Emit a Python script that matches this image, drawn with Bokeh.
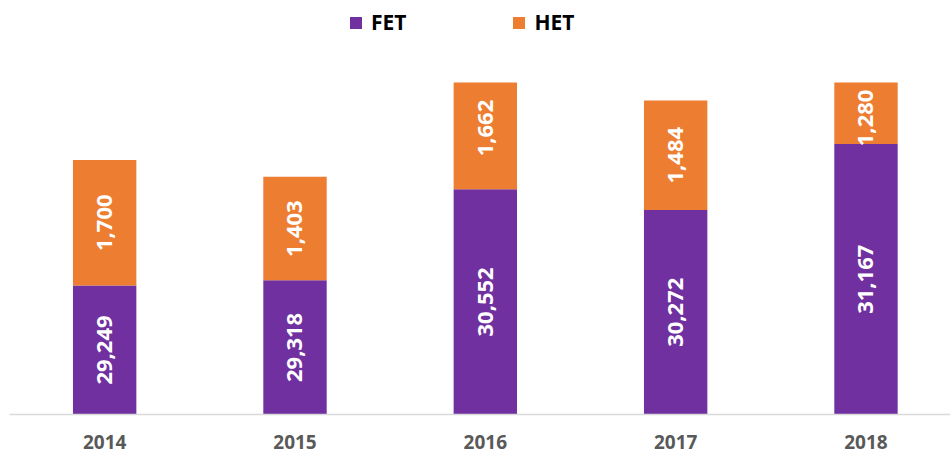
from bokeh.plotting import figure
from bokeh.models import (Range1d, FixedTicker, Legend, LegendItem, ColumnDataSource)
from bokeh.core.properties import value
from bokeh.embed import file_html
from bokeh.resources import INLINE
import math

years = ["2014", "2015", "2016", "2017", "2018"]
fet = [29249, 29318, 30552, 30272, 31167]
het = [1700, 1403, 1662, 1484, 1280]

# value axis of the original chart: 27,500 .. 32,000 (bars above are cut)
Y_MIN, Y_MAX = 27500, 32000
PURPLE = "#7030A0"
ORANGE = "#ED7D31"
FONT = "Open Sans"

FRAME_H = 414          # frame spans the full height above the axis
AXIS_PX = 332          # pixels that the 27,500..32,000 span occupies
Y_TOP = Y_MIN + (Y_MAX - Y_MIN) * FRAME_H / AXIS_PX

xs = list(range(len(years)))
tops = [f + h for f, h in zip(fet, het)]
src = ColumnDataSource(dict(
    x=xs, fet=fet,
    base=[Y_MIN] * len(xs),
    het_top=[min(t, Y_MAX) for t in tops]))

p = figure(width=950, height=454, output_backend="svg", toolbar_location=None,
           x_range=Range1d(-0.5, 4.444), y_range=Range1d(Y_MIN, Y_TOP),
           y_axis_location=None, min_border_left=9, min_border_right=0,
           min_border_top=0, min_border_bottom=40)
p.outline_line_color = None
p.xgrid.visible = False
p.ygrid.visible = False
p.background_fill_color = "white"
p.border_fill_color = "white"

r_fet = p.vbar(x="x", width=0.333, bottom="base", top="fet", source=src,
               color=PURPLE, line_color=None)
r_het = p.vbar(x="x", width=0.333, bottom="fet", top="het_top", source=src,
               color=ORANGE, line_color=None)

# data labels
clamp_units = 480
fet_lab_y = [(Y_MIN + f) / 2 for f in fet]
het_lab_y = [min(f + h / 2, Y_MAX - clamp_units) for f, h in zip(fet, het)]
lab_src = ColumnDataSource(dict(
    x=xs + xs,
    y=fet_lab_y + het_lab_y,
    t=[f"{v:,}" for v in fet] + [f"{v:,}" for v in het]))
p.text(x="x", y="y", text="t", source=lab_src, angle=math.pi / 2,
       text_align="center", text_baseline="middle", text_color="white",
       text_font=value(FONT), text_font_style="bold", text_font_size="22px")

ax = p.xaxis[0]
ax.ticker = FixedTicker(ticks=xs)
ax.major_label_overrides = {i: y for i, y in zip(xs, years)}
ax.major_tick_line_color = None
ax.minor_tick_line_color = None
ax.axis_line_color = "#D9D9D9"
ax.axis_line_width = 1.5
ax.major_label_text_font = FONT
ax.major_label_text_font_style = "bold"
ax.major_label_text_font_size = "19px"
ax.major_label_text_color = "#595959"
ax.major_label_standoff = 14

legend = Legend(items=[LegendItem(label="FET", renderers=[r_fet]),
                       LegendItem(label="HET", renderers=[r_het])],
                orientation="horizontal", location=(339, 378),
                glyph_width=15, glyph_height=15, label_standoff=8, spacing=105,
                padding=0, margin=0, border_line_color=None,
                background_fill_alpha=0,
                label_text_font=FONT, label_text_font_style="bold",
                label_text_font_size="21px", label_text_color="black")
p.add_layout(legend, "center")

open("out.html", "w").write(file_html(p, INLINE))
